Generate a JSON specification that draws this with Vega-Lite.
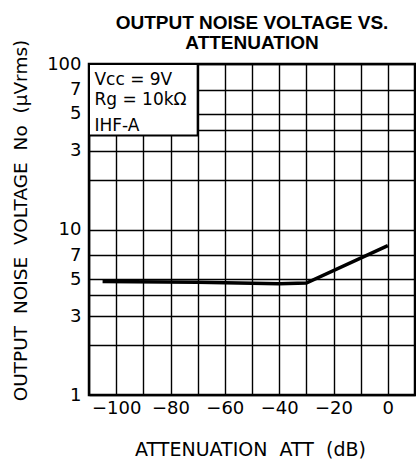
{
  "$schema": "https://vega.github.io/schema/vega-lite/v6.json",
  "autosize": "none",
  "width": 326,
  "height": 331,
  "padding": {"left": 89, "top": 64, "right": 1, "bottom": 65},
  "background": "white",
  "title": {
    "text": ["OUTPUT NOISE VOLTAGE VS.", "ATTENUATION"],
    "font": "Liberation Sans",
    "fontSize": 19,
    "fontWeight": "bold",
    "lineHeight": 20,
    "color": "black",
    "anchor": "middle",
    "offset": -14
  },
  "config": {
    "view": {"stroke": "black", "strokeWidth": 2.5},
    "axis": {
      "grid": true,
      "gridColor": "black",
      "gridOpacity": 1,
      "gridWidth": 1.4,
      "ticks": false,
      "domain": false,
      "tickCount": 30,
      "labelFont": "DejaVu Sans",
      "labelFontSize": 18,
      "labelColor": "black",
      "labelOverlap": false,
      "labelBound": false,
      "labelFlush": false,
      "titleFont": "DejaVu Sans",
      "titleFontSize": 18,
      "titleFontWeight": "normal",
      "titleColor": "black"
    }
  },
  "datasets": {
    "curve": [
      {"att": -105, "noise": 4.85},
      {"att": -70, "noise": 4.8},
      {"att": -40, "noise": 4.7},
      {"att": -30, "noise": 4.75},
      {"att": 0, "noise": 8.0}
    ],
    "box": [
      {"x1": -110, "x2": -70, "y1": 37, "y2": 100}
    ],
    "notes": [
      {"x": -108, "y": 74.6, "label": "Vcc = 9V"},
      {"x": -108, "y": 56.4, "label": "Rg = 10kΩ"},
      {"x": -108, "y": 39.3, "label": "IHF-A"}
    ]
  },
  "layer": [
    {
      "data": {"name": "curve"},
      "mark": {"type": "line", "color": "black", "strokeWidth": 3.5},
      "encoding": {
        "x": {
          "field": "att",
          "type": "quantitative",
          "scale": {"domain": [-110, 10], "nice": false, "zero": false},
          "axis": {
            "values": [-110, -100, -90, -80, -70, -60, -50, -40, -30, -20, -10, 0, 10],
            "tickCount": 30,
            "labelExpr": "(datum.value % 20 == 0 && datum.value >= -100 && datum.value <= 0) ? (datum.value < 0 ? '−' + abs(datum.value) : '' + datum.value) : ''",
            "labelPadding": 4,
            "title": "ATTENUATION\u00a0 ATT\u00a0 (dB)",
            "titleFontSize": 19,
            "titleX": 161,
            "titleY": 54,
            "titleBaseline": "middle",
            "titleAlign": "center"
          }
        },
        "y": {
          "field": "noise",
          "type": "quantitative",
          "scale": {"type": "log", "domain": [1, 100], "nice": false},
          "axis": {
            "values": [1, 2, 3, 4, 5, 7, 10, 20, 30, 40, 50, 70, 100],
            "tickCount": 30,
            "labelExpr": "datum.value == 1 ? '1' : (datum.value == 3 || datum.value == 30) ? '3' : (datum.value == 5 || datum.value == 50) ? '5' : (datum.value == 7 || datum.value == 70) ? '7' : datum.value == 10 ? '10' : datum.value == 100 ? '100' : ''",
            "labelPadding": 8,
            "title": "OUTPUT\u00a0 NOISE\u00a0 VOLTAGE\u00a0 No\u00a0 (μVrms)",
            "titleFontSize": 18.5,
            "titleAngle": -90,
            "titleX": -69,
            "titleY": 156,
            "titleAlign": "center",
            "titleBaseline": "middle"
          }
        }
      }
    },
    {
      "data": {"name": "box"},
      "mark": {"type": "rect", "fill": "white", "stroke": "black", "strokeWidth": 2},
      "encoding": {
        "x": {"field": "x1", "type": "quantitative"},
        "x2": {"field": "x2"},
        "y": {"field": "y1", "type": "quantitative"},
        "y2": {"field": "y2"}
      }
    },
    {
      "data": {"name": "notes"},
      "mark": {"type": "text", "align": "left", "baseline": "alphabetic", "font": "DejaVu Sans", "fontSize": 17, "color": "black"},
      "encoding": {
        "x": {"field": "x", "type": "quantitative"},
        "y": {"field": "y", "type": "quantitative"},
        "text": {"field": "label"}
      }
    }
  ]
}
